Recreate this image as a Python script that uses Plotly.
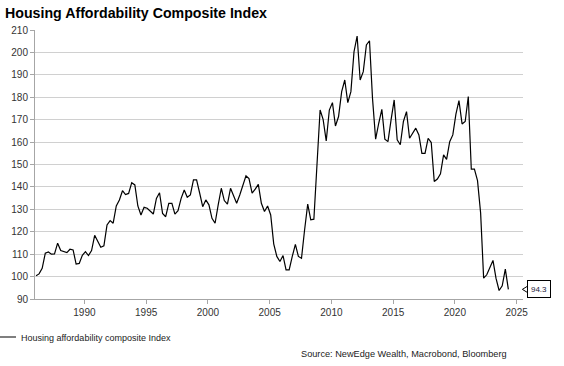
import pandas as pd
import plotly.graph_objects as go

# Quarterly Housing Affordability Composite Index, 1986 Q1 - 2024 Q2
values = [
    100.4, 101.2, 103.7, 110.4, 111.0, 110.0, 110.1, 114.9, 111.6, 111.1,
    110.7, 112.2, 111.9, 105.6, 105.9, 109.5, 111.1, 109.4, 111.6, 118.4,
    115.6, 113.1, 113.7, 123.0, 125.0, 123.8, 131.5, 134.2, 138.3, 136.6,
    137.1, 141.9, 140.9, 131.5, 127.5, 130.9, 130.5, 129.3, 127.9, 134.9,
    137.4, 128.2, 126.7, 132.7, 132.7, 127.9, 129.4, 134.9, 138.6, 135.4,
    136.4, 143.1, 143.1, 137.4, 131.2,
    134.2, 132.0, 126.0, 123.8, 132.0, 139.4, 133.9, 132.3, 139.4, 135.7,
    132.7, 136.4, 140.9, 144.9, 143.7, 137.2, 139.0, 141.1, 132.7, 129.0,
    131.5, 127.5, 114.6, 109.0, 106.7, 109.4, 103.0, 103.0, 109.0, 114.4,
    109.0, 108.2, 120.9, 132.3, 125.3, 125.6, 150.0, 174.3, 170.1, 160.5,
    174.3, 177.6, 167.2, 171.4, 182.5, 187.7, 177.6, 182.5, 200.3, 207.3,
    187.7, 191.4, 203.3, 205.2,
    179.5, 161.3, 168.4, 174.6, 161.3, 160.2, 169.9, 178.8, 161.0, 158.8,
    169.2, 173.6, 161.7, 164.0, 166.2, 163.2, 155.0, 155.0, 161.7, 159.8,
    142.4, 143.5, 145.8, 154.3, 152.3, 160.2, 163.2, 172.5, 178.5, 168.1,
    169.2, 180.3, 147.9, 147.9, 142.8, 128.3, 99.3, 100.8, 103.8, 107.2,
    99.3, 93.8, 95.9, 103.3, 94.3,
]
dates = pd.date_range("1986-02-01", periods=len(values), freq="3MS")

series_name = "Housing affordability composite Index"
title_text = "Housing Affordability Composite Index"
source_text = "Source: NewEdge Wealth, Macrobond, Bloomberg"
last_label = "94.3"

y_min, y_max = 90, 210
x_start, x_end = "1986-01-01", "2025-07-08"

FONT = "Liberation Sans, Arial, sans-serif"

fig = go.Figure()
fig.add_trace(go.Scatter(
    x=dates, y=values, mode="lines", name=series_name,
    line=dict(color="#000000", width=1.2),
    hoverinfo="skip",
))

W, H = 564, 366
ml, mr, mt, mb = 35, 41, 30, 67
PW, PH = W - ml - mr, H - mt - mb

fig.update_layout(
    width=W, height=H,
    margin=dict(l=ml, r=mr, t=mt, b=mb, autoexpand=False),
    paper_bgcolor="white", plot_bgcolor="white",
    font=dict(family=FONT, size=10, color="#333333"),
    title=dict(text=title_text, x=5 / W, xanchor="left", xref="container",
               y=1 - 13 / H, yanchor="middle", yref="container", automargin=False,
               font=dict(family=FONT, size=14.2, color="#000000", weight="bold")),
    showlegend=True,
    legend=dict(orientation="h", x=-54 / PW, xanchor="left",
                y=-(337 - (H - mb)) / PH, yanchor="middle",
                font=dict(size=9, color="#222222"), itemwidth=30,
                bgcolor="rgba(0,0,0,0)"),
    xaxis=dict(
        type="date", range=[x_start, x_end], automargin=False,
        tick0="1990-01-01", dtick="M60", tickformat="%Y",
        showgrid=False, showline=True, linecolor="#a6a6a6", linewidth=1,
        ticks="outside", ticklen=4, tickcolor="#a6a6a6",
        tickfont=dict(size=10, color="#333333"),
        zeroline=False,
    ),
    yaxis=dict(
        range=[y_min, y_max], dtick=10, tick0=90, automargin=False,
        showgrid=True, gridcolor="#d0d0d0", gridwidth=1,
        showline=True, linecolor="#a6a6a6", linewidth=1,
        ticks="outside", ticklen=4, tickcolor="#a6a6a6",
        tickfont=dict(size=10, color="#333333"),
        zeroline=False,
    ),
)

# source note
fig.add_annotation(text=source_text, xref="paper", yref="paper",
                   x=(509 - ml) / PW, xanchor="right",
                   y=-(354 - (H - mb)) / PH, yanchor="middle",
                   showarrow=False, font=dict(size=9.2, color="#222222"))

# last value callout: box with a left-pointing notch
fig.add_annotation(text=last_label, x=dates[-1], y=values[-1], xref="x", yref="y",
                   xanchor="left", yanchor="middle", xshift=19,
                   showarrow=False, width=18, height=12, borderpad=2,
                   bordercolor="#000000", borderwidth=1, bgcolor="white",
                   font=dict(size=8, color="#1a1a3a"))
last_x_paper = (pd.Timestamp(dates[-1]) - pd.Timestamp(x_start)) / (pd.Timestamp(x_end) - pd.Timestamp(x_start))
last_y_paper = (values[-1] - y_min) / (y_max - y_min)
fig.add_shape(type="path", xref="paper", yref="paper",
              xsizemode="pixel", ysizemode="pixel",
              xanchor=last_x_paper, yanchor=last_y_paper,
              path="M 20.5,4 L 14,0 L 20.5,-4",
              line=dict(color="#000000", width=1), fillcolor="white", layer="above")

fig.write_html("out.html", post_script="document.body.style.margin='0';",
               config={"displayModeBar": False})
